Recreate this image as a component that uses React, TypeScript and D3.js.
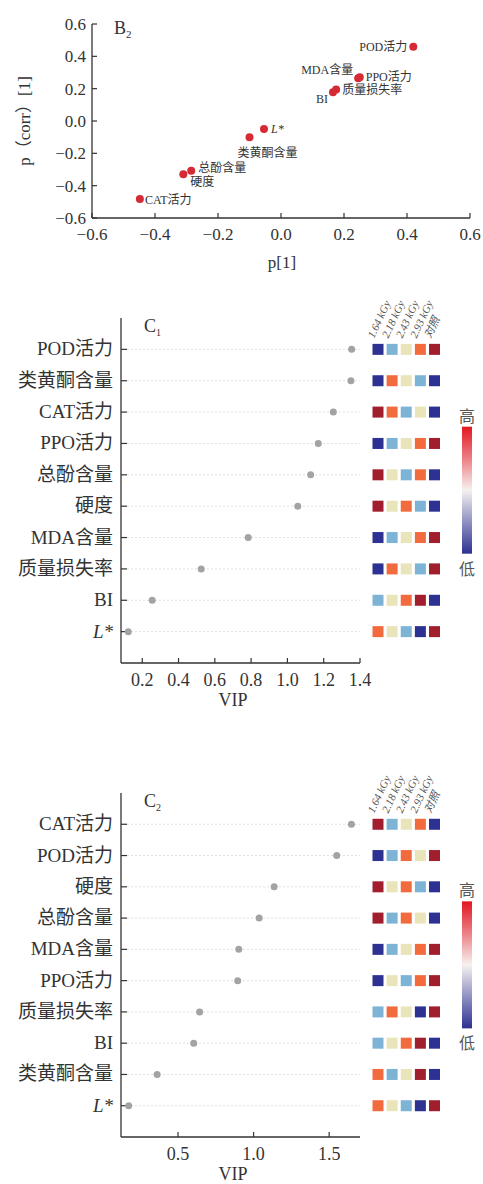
import * as d3 from "d3";

// B2 loading plot
const scatterNames = ["POD活力", "MDA含量", "PPO活力", "质量损失率", "BI", "L*", "类黄酮含量", "总酚含量", "硬度", "CAT活力"];
const scatterP1 = [0.42, 0.245, 0.25, 0.175, 0.165, -0.054, -0.1, -0.285, -0.31, -0.448];
const scatterPcorr = [0.46, 0.265, 0.27, 0.195, 0.178, -0.05, -0.1, -0.307, -0.33, -0.482];

// treatments (heatmap columns)
const treatments = ["1.64 kGy", "2.18 kGy", "2.43 kGy", "2.93 kGy", "对照"];

// C1
const c1Vars = ["POD活力", "类黄酮含量", "CAT活力", "PPO活力", "总酚含量", "硬度", "MDA含量", "质量损失率", "BI", "L*"];
const c1Vip = [1.354, 1.35, 1.253, 1.17, 1.128, 1.057, 0.784, 0.525, 0.255, 0.123];
const c1Levels = [
  [1, 2, 3, 4, 5], [1, 4, 3, 2, 1], [5, 4, 2, 3, 1], [1, 2, 3, 4, 5], [5, 3, 2, 4, 1],
  [5, 3, 4, 2, 1], [1, 2, 3, 4, 5], [1, 4, 3, 2, 5], [2, 3, 4, 5, 1], [4, 3, 2, 1, 5],
];

// C2
const c2Vars = ["CAT活力", "POD活力", "硬度", "总酚含量", "MDA含量", "PPO活力", "质量损失率", "BI", "类黄酮含量", "L*"];
const c2Vip = [1.647, 1.55, 1.136, 1.037, 0.902, 0.895, 0.643, 0.604, 0.362, 0.174];
const c2Levels = [
  [5, 2, 3, 4, 1], [1, 2, 4, 3, 5], [5, 3, 4, 2, 1], [5, 2, 4, 3, 1], [1, 2, 3, 4, 5],
  [1, 3, 2, 4, 5], [2, 4, 3, 1, 5], [2, 3, 4, 5, 1], [4, 2, 3, 5, 1], [4, 3, 2, 1, 5],
];

const FONT = "'Liberation Serif', 'Times New Roman', 'Noto Sans CJK SC', serif";
const AXIS = "#333";

const levelColor = d3
  .scaleOrdinal<number, string>()
  .domain([1, 2, 3, 4, 5])
  .range(["#2d3192", "#7db4d6", "#e9e4b9", "#f26b3e", "#a11e2e"]);

// label placement for the loading plot
const labelPos: Record<string, [number, number, string]> = {
  "POD活力": [-6, 4, "end"],
  "MDA含量": [-5, -4, "end"],
  "PPO活力": [6, 4, "start"],
  "质量损失率": [6, 5, "start"],
  "BI": [-5, 11, "end"],
  "L*": [7, 4, "start"],
  "类黄酮含量": [18, 20, "middle"],
  "总酚含量": [7, 1, "start"],
  "硬度": [7, 12, "start"],
  "CAT活力": [5, 5, "start"],
};

const VarLabel = ({ name }: { name: string }) =>
  name === "L*" ? <tspan fontStyle="italic">L*</tspan> : <>{name}</>;

const Scatter = () => {
  const x = d3.scaleLinear().domain([-0.6, 0.6]).range([92, 470]);
  const y = d3.scaleLinear().domain([-0.6, 0.6]).range([218, 24]);
  const fmt = d3.format(".1f");
  return (
    <g fontFamily={FONT}>
      <line x1={92} x2={92} y1={24} y2={218} stroke={AXIS} strokeWidth={1.3} />
      <line x1={92} x2={470} y1={218} y2={218} stroke={AXIS} strokeWidth={1.3} />
      {x.ticks(6).map((t) => (
        <g key={"x" + t}>
          <line x1={x(t)} x2={x(t)} y1={218} y2={213} stroke={AXIS} strokeWidth={1.2} />
          <text x={x(t)} y={240} textAnchor="middle" fontSize={17} fill="#333">{fmt(t)}</text>
        </g>
      ))}
      {y.ticks(6).map((t) => (
        <g key={"y" + t}>
          <line x1={92} x2={97} y1={y(t)} y2={y(t)} stroke={AXIS} strokeWidth={1.2} />
          <text x={86} y={y(t) + 6} textAnchor="end" fontSize={17} fill="#333">{fmt(t)}</text>
        </g>
      ))}
      <text x={282} y={268} textAnchor="middle" fontSize={17} fill="#333">p[1]</text>
      <text transform="translate(30,121) rotate(-90)" textAnchor="middle" fontSize={17} fill="#333">p（corr）[1]</text>
      <text x={114} y={34} fontSize={18} fill="#333">B<tspan fontSize={11} dy={4}>2</tspan></text>
      {scatterNames.map((n, i) => {
        const cx = x(scatterP1[i]);
        const cy = y(scatterPcorr[i]);
        const [dx, dy, anchor] = labelPos[n];
        return (
          <g key={n}>
            <circle cx={cx} cy={cy} r={4} fill="#d62a34" />
            <text x={cx + dx} y={cy + dy} fontSize={12} textAnchor={anchor} fill="#333">
              <VarLabel name={n} />
            </text>
          </g>
        );
      })}
    </g>
  );
};

type PanelProps = {
  id: string;
  sub: string;
  top: number;
  bottom: number;
  vars: string[];
  vip: number[];
  levels: number[][];
  domain: [number, number];
  nTicks: number;
};

const VipPanel = ({ id, sub, top, bottom, vars, vip, levels, domain, nTicks }: PanelProps) => {
  const x = d3.scaleLinear().domain(domain).range([121, 360]);
  const y = d3.scalePoint<string>().domain(vars).range([top, bottom]).padding(1);
  const col = d3.scalePoint<string>().domain(treatments).range([378, 434.5]);
  const fmt = d3.format(".1f");
  const cell = 11;
  const firstRow = y(vars[0])!;
  const barTop = top + 0.315 * (bottom - top);
  const barH = 127;
  return (
    <g fontFamily={FONT}>
      <defs>
        <linearGradient id={id} x1="0" x2="0" y1="0" y2="1">
          <stop offset="0" stopColor="#e3161f" />
          <stop offset="0.25" stopColor="#ec7f85" />
          <stop offset="0.5" stopColor="#f6f1ef" />
          <stop offset="0.75" stopColor="#8f91c2" />
          <stop offset="1" stopColor="#2c3190" />
        </linearGradient>
      </defs>
      {vars.map((v) => (
        <line key={"g" + v} x1={127} x2={360} y1={y(v)} y2={y(v)} stroke="#d8d8d8" strokeWidth={0.8} strokeDasharray="2,2" />
      ))}
      <line x1={121} x2={121} y1={top} y2={bottom} stroke={AXIS} strokeWidth={1.3} />
      <line x1={121} x2={360} y1={bottom} y2={bottom} stroke={AXIS} strokeWidth={1.3} />
      {vars.map((v) => (
        <g key={"t" + v}>
          <line x1={121} x2={127} y1={y(v)} y2={y(v)} stroke={AXIS} strokeWidth={1.2} />
          <text x={113} y={y(v)! + 6} textAnchor="end" fontSize={19} fill="#333">
            <VarLabel name={v} />
          </text>
        </g>
      ))}
      {x.ticks(nTicks).map((t) => (
        <g key={"x" + t}>
          <line x1={x(t)} x2={x(t)} y1={bottom} y2={bottom - 5} stroke={AXIS} strokeWidth={1.2} />
          <text x={x(t)} y={bottom + 23} textAnchor="middle" fontSize={18} fill="#333">{fmt(t)}</text>
        </g>
      ))}
      <text x={233} y={bottom + 43} textAnchor="middle" fontSize={18} fill="#333">VIP</text>
      <text x={144} y={top + 14} fontSize={18} fill="#333">C<tspan fontSize={10} dy={4}>{sub}</tspan></text>
      {vars.map((v, i) => (
        <circle key={"d" + v} cx={x(vip[i])} cy={y(v)} r={3.5} fill="#a3a3a3" />
      ))}
      {vars.map((v, i) =>
        treatments.map((t, j) => (
          <rect
            key={v + t}
            x={col(t)! - cell / 2}
            y={y(v)! - cell / 2}
            width={cell}
            height={cell}
            fill={levelColor(levels[i][j])}
          />
        ))
      )}
      {treatments.map((t) => (
        <text
          key={"h" + t}
          transform={`translate(${col(t)! - 4},${firstRow - cell / 2 - 5}) rotate(-65)`}
          fontSize={11}
          fontStyle="italic"
          fill="#555"
        >
          {t}
        </text>
      ))}
      <rect x={462} y={barTop} width={10} height={barH} fill={`url(#${id})`} />
      <text x={467} y={barTop - 5} textAnchor="middle" fontSize={16} fill="#555">高</text>
      <text x={467} y={barTop + barH + 21} textAnchor="middle" fontSize={16} fill="#555">低</text>
    </g>
  );
};

export default function App() {
  return (
    <svg
      width={483}
      height={1184}
      style={{ position: "absolute", left: 0, top: 0, background: "#fff" }}
    >
      <Scatter />
      <VipPanel
        id="gradC1"
        sub="1"
        top={318}
        bottom={663}
        vars={c1Vars}
        vip={c1Vip}
        levels={c1Levels}
        domain={[0.083, 1.4]}
        nTicks={7}
      />
      <VipPanel
        id="gradC2"
        sub="2"
        top={793}
        bottom={1137}
        vars={c2Vars}
        vip={c2Vip}
        levels={c2Levels}
        domain={[0.123, 1.704]}
        nTicks={3}
      />
    </svg>
  );
}
